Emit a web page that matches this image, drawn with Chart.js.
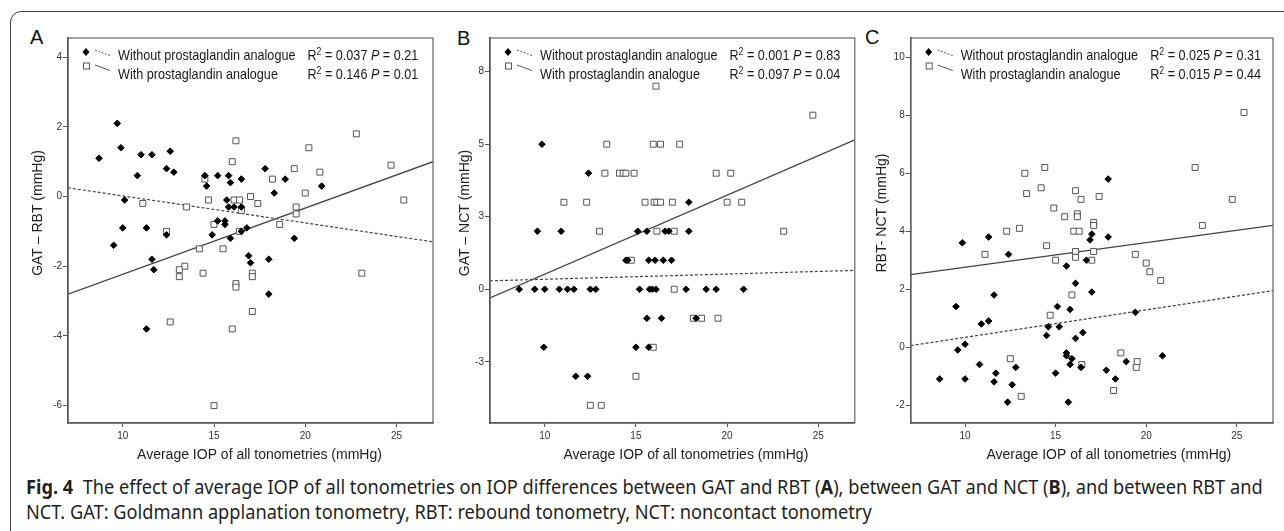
<!DOCTYPE html>
<html>
<head>
<meta charset="utf-8">
<script src="https://cdn.jsdelivr.net/npm/chart.js@4.4.1/dist/chart.umd.min.js"></script>
<style>
  body { margin: 0; background: #fff; width: 1284px; height: 531px; overflow: hidden; position: relative; font-family: "Liberation Sans", Arial, sans-serif; }
  .frame { position: absolute; left: 10px; top: 11px; width: 1300px; height: 560px; border: 1px solid #444; border-radius: 11px; }
  canvas { position: absolute; }
  .letter { position: absolute; font-size: 20px; line-height: 20px; color: #111; }
  .caption { position: absolute; left: 26px; top: 473.5px; font-family: "Noto Sans", sans-serif; font-stretch: 75%; font-size: 20px; line-height: 25.5px; color: #231f20; white-space: nowrap; transform-origin: 0 0; }
</style>
</head>
<body>
<div class="frame"></div>
<div class="letter" style="left:30px;top:27px">A</div>
<div class="letter" style="left:457px;top:28px">B</div>
<div class="letter" style="left:865px;top:27px">C</div>
<canvas id="chartA" width="426" height="450" style="left:14px;top:20px"></canvas>
<canvas id="chartB" width="420" height="450" style="left:440px;top:20px"></canvas>
<canvas id="chartC" width="424" height="450" style="left:860px;top:20px"></canvas>
<div class="caption" id="caption"><span id="line1"><b>Fig. 4</b>&nbsp; The effect of average IOP of all tonometries on IOP differences between GAT and RBT (<b>A</b>), between GAT and NCT (<b>B</b>), and between RBT and</span><br>NCT. GAT: Goldmann applanation tonometry, RBT: rebound tonometry, NCT: noncontact tonometry</div>
<script>
// x = average IOP, y = difference (mmHg)
const xTicks = [10, 15, 20, 25];
const yTicksA = [-6, -4, -2, 0, 2, 4];
const yTicksB = [-2.5, 0, 2.5, 5, 7.5];
const yLabelsB = ['-3', '0', '3', '5', '8'];
const yTicksC = [-2, 0, 2, 4, 6, 8, 10];

// A: GAT - RBT
const aWithout = [[9.7,2.1],[9.9,1.4],[8.7,1.1],[11.0,1.2],[11.6,1.2],[12.6,1.3],[12.4,0.8],[12.8,0.7],[10.8,0.6],[14.5,0.6],
  [15.2,0.6],[15.8,0.6],[14.6,0.3],[15.9,0.4],[16.5,0.5],[17.8,0.8],[18.9,0.5],[18.3,0.1],[20.9,0.3],[10.1,-0.1],
  [15.7,-0.1],[15.8,-0.3],[16.1,-0.3],[16.5,-0.3],[10.0,-0.9],[11.3,-0.9],[9.5,-1.4],[12.4,-1.1],[15.2,-0.7],[15.6,-0.7],
  [15.6,-0.8],[14.9,-1.1],[15.9,-1.2],[16.5,-1.0],[16.8,-0.9],[19.4,-1.2],[11.6,-1.8],[11.7,-2.1],[16.9,-1.7],[17.0,-1.9],
  [18.0,-1.8],[18.0,-2.8],[11.3,-3.8]];
const aWith = [[16.2,1.6],[20.2,1.4],[16.0,1.0],[19.4,0.8],[20.8,0.7],[18.2,0.5],[14.5,0.5],[20.0,0.1],[17.0,0.0],[17.4,-0.2],
  [14.7,-0.1],[16.1,-0.1],[16.4,-0.1],[11.1,-0.2],[13.5,-0.3],[16.5,-0.4],[19.5,-0.3],[19.5,-0.5],[18.6,-0.8],[15.0,-0.8],
  [16.4,-1.0],[12.4,-1.0],[14.2,-1.5],[15.5,-1.5],[13.4,-2.0],[13.1,-2.1],[13.1,-2.3],[14.4,-2.2],[17.1,-2.2],[17.1,-2.3],
  [16.2,-2.5],[16.2,-2.6],[17.1,-3.3],[12.6,-3.6],[16.0,-3.8],[15.0,-6.0],[22.8,1.8],[24.7,0.9],[25.4,-0.1],[23.1,-2.2]];
const aFitWithout = [[7,0.25],[27,-1.3]];
const aFitWith = [[7,-2.8],[27,1.0]];

// B: GAT - NCT
const bWithout = [[9.85,5],[12.4,4],[17.9,3],
  [9.6,2],[10.9,2],[15.1,2],[15.6,2],[16.6,2],[16.8,2],[17.9,2],
  [14.45,1],[14.55,1],[15.7,1],[16.05,1],[16.5,1],[16.95,1],
  [8.6,0],[9.45,0],[10.0,0],[10.8,0],[11.25,0],[11.6,0],[12.5,0],[12.8,0],[15.2,0],[15.75,0],[15.9,0],[16.1,0],[17.75,0],[18.85,0],[19.4,0],[20.9,0],
  [15.6,-1],[16.4,-1],[18.3,-1],
  [9.95,-2],[15.0,-2],[15.7,-2],
  [11.7,-3],[12.35,-3]];
const bWith = [[16.1,7],[24.7,6],
  [13.4,5],[15.95,5],[16.35,5],[17.4,5],
  [13.3,4],[14.1,4],[14.3,4],[14.45,4],[14.9,4],[19.4,4],[20.2,4],
  [11.05,3],[12.3,3],[15.5,3],[16.0,3],[16.15,3],[16.35,3],[17.0,3],[20.0,3],[20.8,3],
  [13.0,2],[16.15,2],[17.1,2],[23.1,2],
  [14.75,1],[17.1,0],
  [18.15,-1],[18.6,-1],[19.5,-1],
  [15.95,-2],[15.0,-3],[12.5,-4],[13.1,-4]];
const bFitWithout = [[7,0.29],[27,0.65]];
const bFitWith = [[7,-0.3],[27,5.15]];

// C: RBT - NCT
const cWithout = [[17.9,5.8],[9.85,3.6],[11.3,3.8],[17.9,3.8],[17.0,3.9],[16.9,3.7],[12.4,3.2],[16.7,3.0],[15.6,2.8],[16.1,2.2],
  [17.0,1.9],[11.6,1.8],[9.5,1.4],[15.1,1.4],[15.8,1.3],[19.4,1.2],[10.9,0.8],[11.3,0.9],[14.6,0.7],[15.2,0.7],
  [14.5,0.4],[16.1,0.3],[16.5,0.5],[10.0,0.1],[9.6,-0.1],[15.6,-0.2],[15.6,-0.3],[15.9,-0.4],[20.9,-0.3],[10.8,-0.6],
  [12.8,-0.7],[15.8,-0.6],[16.4,-0.7],[17.8,-0.8],[18.9,-0.5],[15.0,-0.9],[11.7,-0.9],[8.6,-1.1],[10.0,-1.1],[18.3,-1.1],
  [11.6,-1.2],[12.6,-1.3],[12.35,-1.9],[15.7,-1.9]];
const cWith = [[14.4,6.2],[13.3,6.0],[14.2,5.5],[13.4,5.3],[16.1,5.4],[16.4,5.1],[17.4,5.2],[14.9,4.8],[15.5,4.5],[16.2,4.6],
  [16.2,4.5],[17.1,4.3],[17.1,4.2],[12.3,4.0],[13.0,4.1],[16.0,4.0],[16.3,4.0],[14.5,3.5],[11.1,3.2],[16.1,3.3],
  [17.1,3.3],[16.1,3.1],[15.0,3.0],[17.0,3.0],[19.4,3.2],[20.0,2.9],[20.2,2.6],[20.8,2.3],[15.9,1.8],[14.7,1.1],
  [12.5,-0.4],[18.6,-0.2],[19.5,-0.5],[19.45,-0.7],[16.45,-0.6],[18.2,-1.5],[13.1,-1.7],[25.4,8.1],[22.7,6.2],[24.75,5.1],[23.1,4.2]];
const cFitWithout = [[7,0.05],[27,1.95]];
const cFitWith = [[7,2.5],[27,4.2]];

const FONT = '"Liberation Sans", Arial, sans-serif';
const SQ = 0.87; // legend text is a little narrow in the original

// text drawn slightly squeezed; returns the advance
function squeezed(ctx, t, x, y, font) {
  ctx.font = font;
  ctx.save();
  ctx.translate(x, y);
  ctx.scale(SQ, 1);
  ctx.fillText(t, 0, 0);
  ctx.restore();
  return ctx.measureText(t).width * SQ;
}

// box round the plot area, axis titles (SPSS puts them off-centre) and the two-row legend
const statBox = {
  id: 'statBox',
  afterDraw(chart, args, opts) {
    const {ctx, chartArea: a} = chart;
    ctx.save();
    ctx.strokeStyle = '#666';
    ctx.lineWidth = 1.2;
    ctx.strokeRect(a.left, a.top, a.right - a.left, a.bottom - a.top);

    // axis titles
    ctx.fillStyle = '#222';
    ctx.font = '14px ' + FONT;
    ctx.textAlign = 'center';
    ctx.textBaseline = 'middle';
    ctx.fillText(opts.xTitle, (a.left + a.right) / 2 + opts.xShift, a.bottom + 32);
    ctx.save();
    ctx.translate(opts.yTitleX, (a.top + a.bottom) / 2 - 17.5);
    ctx.rotate(-Math.PI / 2);
    ctx.fillText(opts.yTitle, 0, 0);
    ctx.restore();
    ctx.textAlign = 'left';

    const mx = a.left + 18;
    // diamond
    ctx.fillStyle = '#000';
    ctx.beginPath();
    ctx.moveTo(mx, a.top + 10); ctx.lineTo(mx + 3.5, a.top + 14);
    ctx.lineTo(mx, a.top + 18); ctx.lineTo(mx - 3.5, a.top + 14);
    ctx.closePath(); ctx.fill();
    // square
    ctx.strokeStyle = '#555'; ctx.lineWidth = 1;
    ctx.strokeRect(mx - 2.5, a.top + 25, 6, 6);
    // short line keys
    ctx.strokeStyle = '#555'; ctx.lineWidth = 1;
    ctx.setLineDash([2, 1.5]);
    ctx.beginPath(); ctx.moveTo(a.left + 27, a.top + 12); ctx.lineTo(a.left + 42, a.top + 17.5); ctx.stroke();
    ctx.setLineDash([]);
    ctx.beginPath(); ctx.moveTo(a.left + 27, a.top + 27); ctx.lineTo(a.left + 42, a.top + 32.5); ctx.stroke();

    ctx.fillStyle = '#1a1a1a';
    ctx.textBaseline = 'alphabetic';
    opts.rows.forEach((r, i) => {
      const base = a.top + 22 + i * 18.7;
      squeezed(ctx, r.label, a.left + 50, base, '14.5px ' + FONT);
      let x = a.left + 239.5;
      x += squeezed(ctx, 'R', x, base, '14.5px ' + FONT);
      x += squeezed(ctx, '2', x, base - 5, '10px ' + FONT);
      x += squeezed(ctx, ' = ' + r.r2 + ' ', x, base, '14.5px ' + FONT);
      x += squeezed(ctx, 'P', x, base, 'italic 14.5px ' + FONT);
      squeezed(ctx, ' = ' + r.p, x, base, '14.5px ' + FONT);
    });
    ctx.restore();
  }
};

function panel(id, o) {
  const pts = arr => arr.map(p => ({x: p[0], y: p[1]}));
  return new Chart(document.getElementById(id), {
    type: 'scatter',
    data: {
      datasets: [
        {data: pts(o.without), pointStyle: 'rectRot', pointRadius: 3.3, backgroundColor: '#000', borderColor: '#000', borderWidth: 1, order: 1},
        {data: pts(o.with), pointStyle: 'rect', pointRadius: 4.2, backgroundColor: '#fff', borderColor: '#555', borderWidth: 1, order: 2},
        {data: pts(o.fitWithout), showLine: true, pointRadius: 0, borderColor: '#444', borderWidth: 1.2, borderDash: [3, 2], order: 3},
        {data: pts(o.fitWith), showLine: true, pointRadius: 0, borderColor: '#444', borderWidth: 1.3, order: 3}
      ]
    },
    options: {
      responsive: false,
      animation: false,
      events: [],
      layout: {padding: {left: o.padL, right: o.padR, top: 18, bottom: 7}},
      plugins: {
        legend: {display: false},
        tooltip: {enabled: false},
        statBox: {
          rows: o.rows,
          xTitle: 'Average IOP of all tonometries (mmHg)', xShift: o.xShift,
          yTitle: o.yTitle, yTitleX: o.padL + 8.4
        }
      },
      scales: {
        x: {
          type: 'linear', min: 7, max: 27,
          afterBuildTicks: s => { s.ticks = xTicks.map(v => ({value: v})); },
          afterFit: s => { s.height = 40; },
          grid: {drawOnChartArea: false, tickLength: 4, color: '#555'},
          border: {color: '#444', width: 1.5},
          ticks: {font: {size: 10}, color: '#333', padding: 3, maxRotation: 0}
        },
        y: {
          type: 'linear', min: o.yMin, max: o.yMax,
          afterBuildTicks: s => { s.ticks = o.yTicks.map(v => ({value: v})); },
          afterFit: s => { s.width = o.yW; },
          grid: {drawOnChartArea: false, tickLength: 5, color: '#555'},
          border: {color: '#444', width: 1.5},
          ticks: {font: {size: 10}, color: '#333', padding: 1, callback: o.yLabel}
        }
      }
    },
    plugins: [statBox]
  });
}

panel('chartA', {
  without: aWithout, with: aWith, fitWithout: aFitWithout, fitWith: aFitWith,
  yMin: -6.5, yMax: 4.55, yTicks: yTicksA, yLabel: v => v,
  yTitle: 'GAT \u2013 RBT (mmHg)', padL: 15.6, yW: 38.4, padR: 7, xShift: 9,
  rows: [{label: 'Without prostaglandin analogue', r2: '0.037', p: '0.21'},
         {label: 'With prostaglandin analogue', r2: '0.146', p: '0.01'}]
});
panel('chartB', {
  without: bWithout, with: bWith, fitWithout: bFitWithout, fitWith: bFitWith,
  yMin: -4.61, yMax: 8.66, yTicks: yTicksB, yLabel: (v, i) => yLabelsB[i],
  yTitle: 'GAT \u2013 NCT (mmHg)', padL: 16.6, yW: 33.4, padR: 5, xShift: 13.5,
  rows: [{label: 'Without prostaglandin analogue', r2: '0.001', p: '0.83'},
         {label: 'With prostaglandin analogue', r2: '0.097', p: '0.04'}]
});
panel('chartC', {
  without: cWithout, with: cWith, fitWithout: cFitWithout, fitWith: cFitWith,
  yMin: -2.62, yMax: 10.67, yTicks: yTicksC, yLabel: v => v,
  yTitle: 'RBT- NCT (mmHg)', padL: 14.1, yW: 36.6, padR: 11, xShift: 17,
  rows: [{label: 'Without prostaglandin analogue', r2: '0.025', p: '0.31'},
         {label: 'With prostaglandin analogue', r2: '0.015', p: '0.44'}]
});

// squeeze caption so the first line spans the same width as the reference
const line1 = document.getElementById('line1');
const k = 1236 / line1.getBoundingClientRect().width;
document.getElementById('caption').style.transform = 'scaleX(' + k.toFixed(3) + ')';
</script>
</body>
</html>
